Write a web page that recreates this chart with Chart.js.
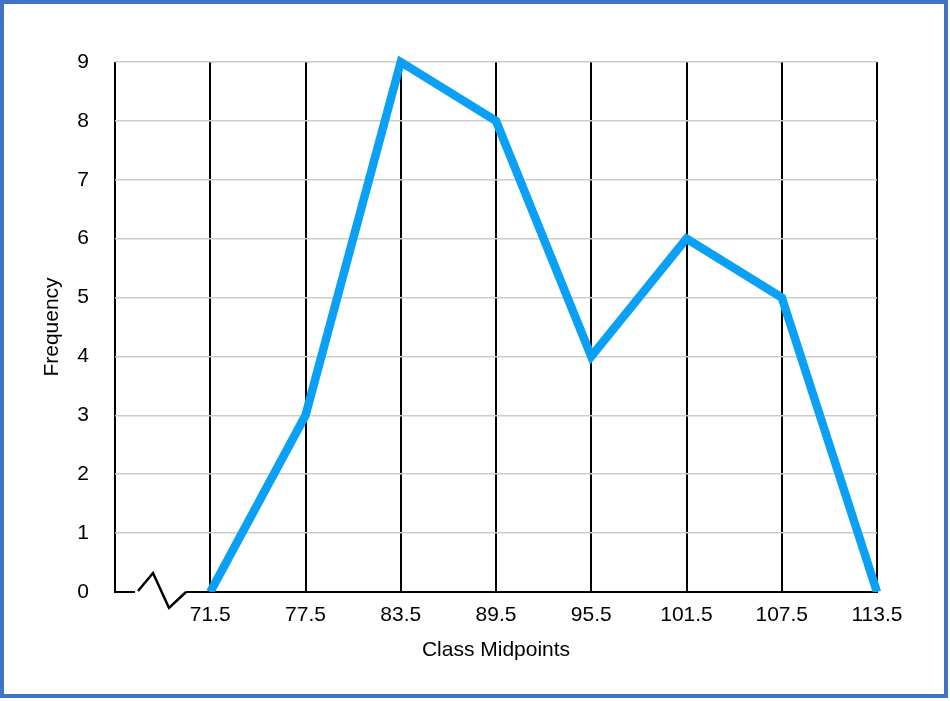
<!DOCTYPE html>
<html>
<head>
<meta charset="utf-8">
<script src="https://cdn.jsdelivr.net/npm/chart.js@4/dist/chart.umd.min.js"></script>
<style>
  body { margin: 0; background: #fff; }
  #wrap { position: relative; width: 950px; height: 701px; }
  #frame { position: absolute; left: 0; top: 0; width: 940px; height: 690px; border: 4px solid #4472c4; pointer-events: none; }
</style>
</head>
<body>
<div id="wrap">
  <canvas id="polygon" width="950" height="701"></canvas>
  <div id="frame"></div>
</div>
<script>
// Data
const axisStart = 65.5;
const midpoints = [71.5, 77.5, 83.5, 89.5, 95.5, 101.5, 107.5, 113.5];
const frequency = [0, 3, 9, 8, 4, 6, 5, 0];
const yTicks = [0, 1, 2, 3, 4, 5, 6, 7, 8, 9];

const FONT = { family: '"Liberation Sans", Arial, sans-serif', size: 21 };

// zigzag break on the x axis, just right of the y axis
const axisBreak = {
    id: 'axisBreak',
    afterDraw(chart) {
        const c = chart.ctx;
        const x0 = chart.scales.x.left;
        const y0 = chart.scales.y.getPixelForValue(0);
        c.save();
        c.fillStyle = '#fff';
        c.fillRect(x0 + 20, y0 - 3, 51, 6);
        c.strokeStyle = '#000';
        c.lineWidth = 2.5;
        c.beginPath();
        c.moveTo(x0 + 23, y0 - 1);
        c.lineTo(x0 + 38, y0 - 19);
        c.lineTo(x0 + 54, y0 + 16);
        c.lineTo(x0 + 71, y0);
        c.stroke();
        c.restore();
    }
};

const ctx = document.getElementById('polygon').getContext('2d');
const chart = new Chart(ctx, {
    type: 'line',
    data: {
        datasets: [{
            label: 'Frequency',
            data: midpoints.map((m, i) => ({ x: m, y: frequency[i] })),
            borderColor: '#0aa0f5',
            borderWidth: 8.5,
            borderJoinStyle: 'miter',
            pointRadius: 0,
            tension: 0,
            fill: false,
            clip: { left: 6, top: 10, right: 6, bottom: 0 }
        }]
    },
    options: {
        responsive: false,
        animation: false,
        layout: { padding: { left: 0, top: 62, right: 73, bottom: 0 } },
        plugins: { legend: { display: false }, tooltip: { enabled: false } },
        scales: {
            x: {
                type: 'linear',
                min: axisStart,
                max: midpoints[midpoints.length - 1],
                afterBuildTicks: s => { s.ticks = [axisStart, ...midpoints].map(v => ({ value: v })); },
                afterFit: s => { s.height = 109; },
                grid: { color: '#000', lineWidth: 2, drawTicks: false },
                border: { color: '#000', width: 2 },
                ticks: {
                    color: '#000', font: FONT, padding: 11, maxRotation: 0, autoSkip: false,
                    callback: v => midpoints.includes(v) ? v.toFixed(1) : ''
                },
                title: { display: true, text: 'Class Midpoints', color: '#000', font: FONT, padding: { top: 0, bottom: 38 } }
            },
            y: {
                min: 0,
                max: yTicks[yTicks.length - 1],
                afterBuildTicks: s => { s.ticks = yTicks.map(v => ({ value: v })); },
                afterFit: s => { s.width = 115; },
                grid: { color: '#cccccc', lineWidth: 1.5, drawTicks: false },
                border: { display: false },
                ticks: { color: '#000', font: FONT, padding: 26 },
                title: { display: true, text: 'Frequency', color: '#000', font: FONT, padding: { top: 40, bottom: 0 } }
            }
        }
    },
    plugins: [axisBreak]
});
</script>
</body>
</html>
